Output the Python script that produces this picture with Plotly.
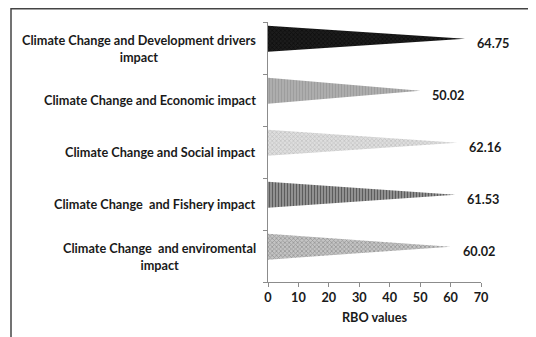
import plotly.graph_objects as go

# categories from top to bottom, as in the chart
categories = [
    "Climate Change and Development drivers<br>impact",
    "Climate Change and Economic impact",
    "Climate Change and Social impact",
    "Climate Change\u00a0 and Fishery impact",
    "Climate Change\u00a0 and enviromental<br>impact",
]
rbo_values = [64.75, 50.02, 62.16, 61.53, 60.02]
x_ticks = [0, 10, 20, 30, 40, 50, 60, 70]
x_title = "RBO values"

# cone fill styles (pattern shape, fg, bg, size)
styles = [
    ("x", "#000000", "#1c1c1c", 3),
    ("|", "#8a8a8a", "#b0b0b0", 3),
    ("x", "#a8a8a8", "#dedede", 3),
    ("|", "#1e1e1e", "#9a9a9a", 3),
    ("x", "#6a6a6a", "#c4c4c4", 3),
]

# the page body has an 8px margin, so the figure is drawn 8px smaller
OFF = 8
W, H = 536 - OFF, 337 - OFF
L, T = 268 - OFF, 22 - OFF
R = W - (481 - OFF)
B = H - (282 - OFF)
pw = W - L - R
ph = H - T - B

FONT = dict(family="Lato", size=12.7, color="#1a1a1a", weight="bold")

fig = go.Figure()

half = 0.25   # half height of a cone base, in category units
lift = 0.18   # 3d look: cones sit a little above the category centre

for i, (cat, v) in enumerate(zip(categories, rbo_values)):
    c = i - lift
    shp, fg, bg, sz = styles[i]
    fig.add_trace(go.Scatter(
        x=[0, v, 0, 0],
        y=[c - half, c, c + half, c - half],
        mode="lines",
        line=dict(width=0),
        fill="toself",
        fillcolor=bg,
        fillpattern=dict(shape=shp, fgcolor=fg, bgcolor=bg, size=sz, solidity=0.45),
        hoverinfo="skip",
        showlegend=False,
    ))
    # value label
    fig.add_annotation(
        x=v, y=i - 0.1, xref="x", yref="y",
        text=f"{v:.2f}", showarrow=False,
        xanchor="left", xshift=10,
        font=FONT,
    )
    # category label, centred lines like the original
    fig.add_annotation(
        x=0, y=i, xref="paper", yref="y",
        text=cat, showarrow=False,
        xanchor="right", xshift=-10, align="center",
        font=FONT,
    )

n = len(categories)
fig.update_yaxes(
    range=[n - 0.5, -0.5],
    tickvals=list(range(n)),
    ticktext=[""] * n,
    ticks="", showgrid=False, zeroline=False,
    showline=True, linecolor="#8c8c8c", linewidth=1,
    minor=dict(tickmode="array", tickvals=[k - 0.5 for k in range(n + 1)],
               ticks="outside", ticklen=4, tickcolor="#8c8c8c", showgrid=False),
)
fig.update_xaxes(
    range=[0, 70],
    tickvals=x_ticks,
    ticks="outside", ticklen=4, tickcolor="#8c8c8c",
    showgrid=False, zeroline=False,
    showline=True, linecolor="#8c8c8c", linewidth=1,
    tickfont=FONT,
    title=dict(text=x_title, standoff=8, font=FONT),
)

# outer frame (left and top edges only are in view)
def px(x):
    return (x - L) / pw

def py(y):
    return 1 - (y - T) / ph

fig.add_shape(type="line", xref="paper", yref="paper",
              x0=px(3), x1=px(3), y0=py(0), y1=py(H + 5),
              line=dict(color="#444444", width=1.5))
fig.add_shape(type="line", xref="paper", yref="paper",
              x0=px(3), x1=px(W + 5), y0=py(0.7), y1=py(0.7),
              line=dict(color="#444444", width=1.5))

fig.update_layout(
    width=W, height=H,
    margin=dict(l=L, r=R, t=T, b=B),
    paper_bgcolor="white", plot_bgcolor="white",
    showlegend=False,
)

fig.write_html("out.html")
